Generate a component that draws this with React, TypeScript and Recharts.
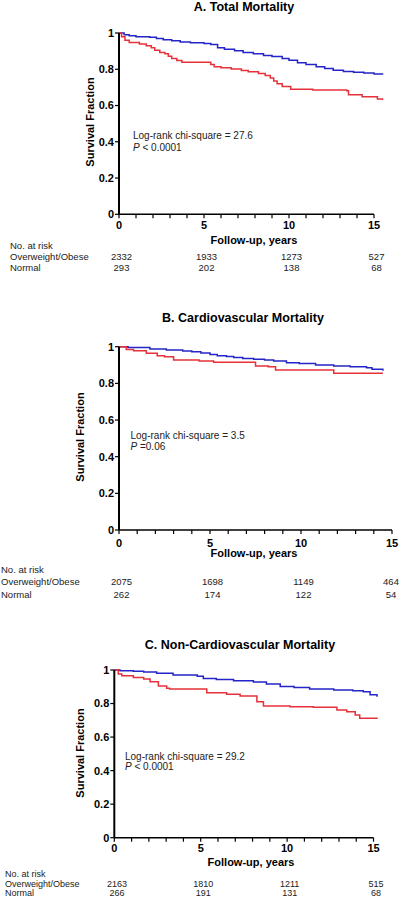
import React from 'react';
import { LineChart, Line, XAxis, YAxis, ReferenceLine } from 'recharts';

const FONT = '"Liberation Sans", Arial, sans-serif';
const BLUE = '#2424c8';
const RED = '#e6303a';

const xTicks = [0, 1, 2, 3, 4, 5, 6, 7, 8, 9, 10, 11, 12, 13, 14, 15];
const yTicks = [0, 0.2, 0.4, 0.6, 0.8, 1];
const riskYears = [0, 5, 10, 15];

// A. Total Mortality
const totalObeseT = [0, 0.3, 0.6, 1.0, 1.8, 2.2, 2.6, 3.1, 3.6, 4.2, 5.0, 5.4, 5.8, 6.2, 6.8, 7.3, 7.9, 8.5, 9.0, 9.6, 10.0, 10.5, 11.0, 11.6, 12.1, 12.6, 13.2, 13.8, 14.4, 15.0, 15.5];
const totalObeseS = [1, 0.99, 0.985, 0.979, 0.976, 0.97, 0.963, 0.957, 0.95, 0.946, 0.942, 0.936, 0.918, 0.91, 0.902, 0.893, 0.885, 0.876, 0.87, 0.86, 0.85, 0.836, 0.826, 0.814, 0.804, 0.794, 0.788, 0.784, 0.78, 0.774, 0.77];
const totalNormalT = [0, 0.15, 0.35, 0.6, 1.2, 1.6, 1.9, 2.1, 2.4, 2.7, 2.9, 3.1, 3.4, 3.7, 5.4, 5.6, 6.0, 6.6, 7.2, 7.6, 8.2, 8.6, 8.9, 9.1, 9.3, 9.6, 10.1, 11.4, 13.4, 13.5, 14.3, 15.2, 15.5];
const totalNormalS = [1, 0.98, 0.96, 0.948, 0.94, 0.93, 0.918, 0.905, 0.892, 0.885, 0.872, 0.86, 0.848, 0.838, 0.826, 0.814, 0.808, 0.801, 0.793, 0.786, 0.777, 0.765, 0.752, 0.735, 0.72, 0.705, 0.69, 0.685, 0.681, 0.66, 0.648, 0.636, 0.63];
const totalRiskObese = [2332, 1933, 1273, 527];
const totalRiskNormal = [293, 202, 138, 68];

// B. Cardiovascular Mortality
const cvObeseT = [0, 0.5, 1.7, 2.6, 3.5, 4.0, 4.5, 5.0, 5.4, 5.9, 6.3, 6.8, 7.4, 8.0, 8.5, 9.2, 9.9, 10.8, 11.8, 12.7, 13.6, 13.9, 14.5];
const cvObeseS = [1, 0.995, 0.987, 0.982, 0.977, 0.972, 0.966, 0.958, 0.951, 0.946, 0.941, 0.936, 0.932, 0.928, 0.922, 0.913, 0.908, 0.9, 0.895, 0.89, 0.885, 0.877, 0.869];
const cvNormalT = [0, 0.4, 0.8, 1.5, 2.1, 2.5, 3.0, 4.4, 5.2, 7.5, 8.2, 8.6, 11.8, 14.5];
const cvNormalS = [1, 0.985, 0.978, 0.964, 0.951, 0.945, 0.927, 0.922, 0.915, 0.895, 0.891, 0.873, 0.855, 0.855];
const cvRiskObese = [2075, 1698, 1149, 464];
const cvRiskNormal = [262, 174, 122, 54];

// C. Non-Cardiovascular Mortality
const ncvObeseT = [0, 0.33, 1.1, 1.7, 2.45, 3.4, 4.8, 5.15, 5.9, 6.9, 8.05, 8.8, 9.6, 10.4, 11.3, 12.7, 13.8, 14.4, 14.8, 15.2];
const ncvObeseS = [1, 0.995, 0.992, 0.988, 0.98, 0.97, 0.962, 0.95, 0.944, 0.936, 0.928, 0.916, 0.902, 0.896, 0.886, 0.88, 0.876, 0.87, 0.852, 0.841];
const ncvNormalT = [0, 0.23, 0.43, 1.1, 1.7, 2.07, 2.55, 3.03, 3.2, 5.35, 6.5, 7.28, 8.25, 8.63, 10.17, 11.52, 12.88, 13.45, 13.94, 14.2, 15.2];
const ncvNormalS = [1, 0.976, 0.966, 0.956, 0.946, 0.93, 0.905, 0.891, 0.887, 0.865, 0.855, 0.845, 0.811, 0.785, 0.781, 0.778, 0.762, 0.751, 0.732, 0.712, 0.708];
const ncvRiskObese = [2163, 1810, 1211, 515];
const ncvRiskNormal = [266, 191, 131, 68];

const toPoints = (t: number[], s: number[]) => t.map((v, i) => ({ t: v, s: s[i] }));

const Txt = ({ x, y, size = 10, bold = false, center = false, children }: any) => (
  <div
    style={{
      position: 'absolute',
      left: x,
      top: y - size * 0.5,
      fontSize: size,
      lineHeight: 1,
      fontWeight: bold ? 'bold' : 'normal',
      fontFamily: FONT,
      color: bold ? '#000' : '#222',
      whiteSpace: 'nowrap',
      transform: center ? 'translateX(-50%)' : undefined,
    }}
  >
    {children}
  </div>
);

interface PanelProps {
  chartTop: number;
  plotTop: number;
  plotH: number;
  plotLeft: number;
  plotRight: number;
  xMax: number;
  tickMargin: number;
  obese: { t: number; s: number }[];
  normal: { t: number; s: number }[];
}

const Panel = ({ chartTop, plotTop, plotH, plotLeft, plotRight, xMax, tickMargin, obese, normal }: PanelProps) => (
  <div style={{ position: 'absolute', left: 0, top: chartTop }}>
    <LineChart
      width={400}
      height={plotTop - chartTop + plotH + 30}
      margin={{ top: plotTop - chartTop, right: 400 - plotRight, bottom: 0, left: 0 }}
    >
      <XAxis
        dataKey="t"
        type="number"
        domain={[0, xMax]}
        ticks={xTicks}
        interval={0}
        height={30}
        axisLine={false}
        tickLine={{ stroke: '#000', strokeWidth: 1.2 }}
        tickSize={4}
        tickMargin={tickMargin}
        tickFormatter={(v: number) => (v % 5 === 0 ? String(v) : '')}
        tick={{ fill: '#000', fontSize: 11, fontWeight: 'bold', fontFamily: FONT }}
      />
      <YAxis
        type="number"
        domain={[0, 1]}
        ticks={yTicks}
        width={plotLeft}
        axisLine={{ stroke: '#000', strokeWidth: 2 }}
        tickLine={{ stroke: '#000', strokeWidth: 1.2 }}
        tickSize={4}
        tickMargin={1}
        tickFormatter={(v: number) => (v === 0 ? '0' : v === 1 ? '1' : v.toFixed(1))}
        tick={{ fill: '#000', fontSize: 11, fontWeight: 'bold', fontFamily: FONT }}
      />
      <ReferenceLine
        segment={[{ x: 0, y: 0 }, { x: 15, y: 0 }]}
        stroke="#000"
        strokeWidth={1.6}
      />
      <Line data={obese} dataKey="s" type="stepAfter" stroke={BLUE} strokeWidth={1.5} dot={false} activeDot={false} isAnimationActive={false} />
      <Line data={normal} dataKey="s" type="stepAfter" stroke={RED} strokeWidth={1.5} dot={false} activeDot={false} isAnimationActive={false} />
    </LineChart>
  </div>
);

const RiskTable = ({ x0, pxPerYear, labelX, y0, y1, y2, obese, normal, size = 9.5, maxX = 400 }: any) => (
  <>
    <Txt x={labelX} y={y0} size={size}>No. at risk</Txt>
    <Txt x={labelX} y={y1} size={size}>Overweight/Obese</Txt>
    <Txt x={labelX} y={y2} size={size}>Normal</Txt>
    {riskYears.map((yr, i) => {
      const cx = Math.min(x0 + yr * pxPerYear, maxX);
      return (
        <React.Fragment key={yr}>
          <Txt x={cx} y={y1} size={size} center>{obese[i]}</Txt>
          <Txt x={cx} y={y2} size={size} center>{normal[i]}</Txt>
        </React.Fragment>
      );
    })}
  </>
);

const YLabel = ({ x, y }: { x: number; y: number }) => (
  <div
    style={{
      position: 'absolute',
      left: x,
      top: y,
      fontSize: 11,
      lineHeight: 1,
      fontWeight: 'bold',
      fontFamily: FONT,
      whiteSpace: 'nowrap',
      transform: 'translate(-50%, -50%) rotate(-90deg)',
    }}
  >
    Survival Fraction
  </div>
);

export default function App() {
  return (
    <div style={{ position: 'absolute', left: 0, top: 0, width: 400, height: 898, background: '#fff', overflow: 'hidden' }}>
      {/* A */}
      <Panel chartTop={0} plotTop={33} plotH={181.3} plotLeft={119} plotRight={382.5} xMax={15.5} tickMargin={3}
        obese={toPoints(totalObeseT, totalObeseS)} normal={toPoints(totalNormalT, totalNormalS)} />
      <Txt x={244} y={7} size={12.5} bold center>A. Total Mortality</Txt>
      <YLabel x={90} y={122} />
      <Txt x={254} y={240} size={11} bold center>Follow-up, years</Txt>
      <Txt x={133} y={136} size={10}>Log-rank chi-square = 27.6</Txt>
      <Txt x={133} y={147.5} size={10}><i>P</i> &lt; 0.0001</Txt>
      <RiskTable x0={121.5} pxPerYear={17} labelX={10} y0={246} y1={257} y2={268}
        obese={totalRiskObese} normal={totalRiskNormal} />

      {/* B */}
      <Panel chartTop={300} plotTop={346.7} plotH={183.3} plotLeft={119} plotRight={392} xMax={15} tickMargin={5}
        obese={toPoints(cvObeseT, cvObeseS)} normal={toPoints(cvNormalT, cvNormalS)} />
      <Txt x={243} y={318.5} size={12.5} bold center>B. Cardiovascular Mortality</Txt>
      <YLabel x={80} y={437} />
      <Txt x={254} y={553} size={11} bold center>Follow-up, years</Txt>
      <Txt x={130.5} y={436} size={10}>Log-rank chi-square = 3.5</Txt>
      <Txt x={130.5} y={447} size={10}><i>P</i> =0.06</Txt>
      <RiskTable x0={121.5} pxPerYear={18.2} labelX={1} y0={569.5} y1={582} y2={594.3} maxX={391}
        obese={cvRiskObese} normal={cvRiskNormal} />

      {/* C */}
      <Panel chartTop={600} plotTop={670} plotH={167.7} plotLeft={114.3} plotRight={377} xMax={15.2} tickMargin={3}
        obese={toPoints(ncvObeseT, ncvObeseS)} normal={toPoints(ncvNormalT, ncvNormalS)} />
      <Txt x={240} y={645} size={12.5} bold center>C. Non-Cardiovascular Mortality</Txt>
      <YLabel x={80} y={753} />
      <Txt x={251} y={862} size={11} bold center>Follow-up, years</Txt>
      <Txt x={125} y={756.7} size={10}>Log-rank chi-square = 29.2</Txt>
      <Txt x={125} y={767} size={10}><i>P</i> &lt; 0.0001</Txt>
      <RiskTable x0={117} pxPerYear={17.27} labelX={5} y0={874.5} y1={884} y2={893.8} size={9}
        obese={ncvRiskObese} normal={ncvRiskNormal} />
    </div>
  );
}
